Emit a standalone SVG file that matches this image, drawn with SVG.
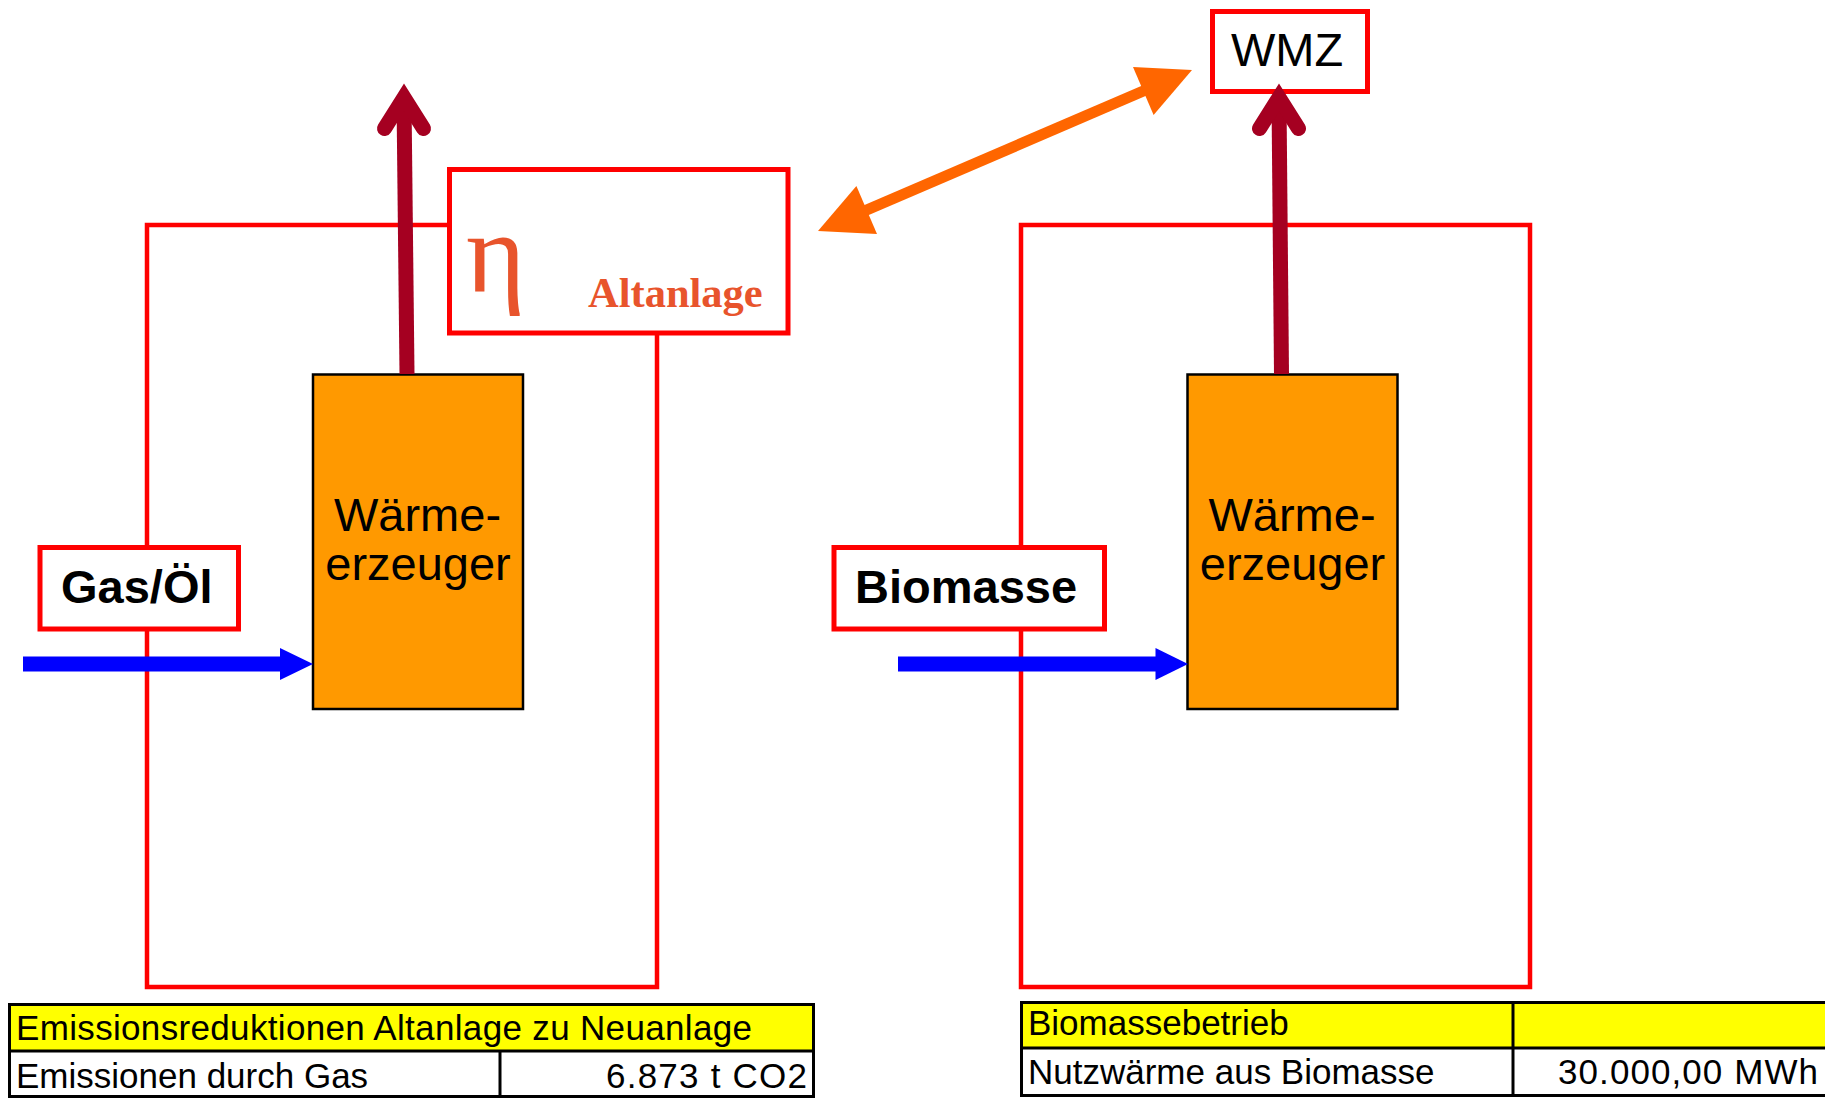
<svg xmlns="http://www.w3.org/2000/svg" width="1825" height="1100" viewBox="0 0 1825 1100">
<style>
.frame{fill:none;stroke:#FF0000;stroke-width:4.5}
.lbl{fill:#FFFFFF;stroke:#FF0000;stroke-width:5}
.gen{fill:#FF9900;stroke:#000000;stroke-width:2.5}
.genT{font-family:"Liberation Sans",Arial,sans-serif;font-size:47px;fill:#000;text-anchor:middle}
.bold{font-family:"Liberation Sans",Arial,sans-serif;font-size:47px;font-weight:bold;fill:#000}
.eta{font-family:"Liberation Serif","Times New Roman",serif;fill:#E8542C}
.heat{stroke:#A50021;stroke-width:15;fill:none}
.chev{stroke:#A50021;stroke-width:15;fill:none;stroke-linecap:round;stroke-linejoin:miter}
.blue{fill:#0000FF}
.orng{fill:#FF6600}
.cell{stroke:#000;stroke-width:3}
.tt{font-family:"Liberation Sans",Arial,sans-serif;font-size:35px;fill:#000}
</style>
<rect width="1825" height="1100" fill="#FFFFFF"/>

<g id="system-left">
  <rect class="frame" x="147" y="225" width="510" height="762"/>
</g>
<g id="system-right">
  <rect class="frame" x="1021" y="225" width="509" height="762"/>
</g>

<g id="eta-altanlage">
  <rect class="lbl" x="449.5" y="169.5" width="338.5" height="163.5"/>
  <text class="eta" x="466" y="292" font-size="114">η</text>
  <text class="eta" x="588" y="307" font-size="42.5" font-weight="bold">Altanlage</text>
</g>

<g id="wmz">
  <rect class="lbl" x="1212.5" y="11.5" width="155" height="80"/>
  <text x="1287" y="66" font-family="'Liberation Sans',Arial,sans-serif" font-size="47" text-anchor="middle" fill="#000">WMZ</text>
</g>

<g id="gas-oel">
  <rect class="lbl" x="40" y="547.5" width="198.5" height="81.5"/>
  <text class="bold" x="61" y="603">Gas/Öl</text>
</g>

<g id="biomasse">
  <rect class="lbl" x="834" y="547.5" width="270.5" height="81.5"/>
  <text class="bold" x="855" y="603">Biomasse</text>
</g>

<g id="waermeerzeuger-left">
  <rect class="gen" x="313" y="374.5" width="210" height="334.5"/>
  <text class="genT" x="417.5" y="531">Wärme-</text>
  <text class="genT" x="418" y="579.5">erzeuger</text>
</g>

<g id="waermeerzeuger-right">
  <rect class="gen" x="1187.5" y="374.5" width="210" height="334.5"/>
  <text class="genT" x="1292" y="531">Wärme-</text>
  <text class="genT" x="1292.5" y="579.5">erzeuger</text>
</g>

<g id="connectors">
  <!-- fuel inputs -->
  <rect class="blue" x="23" y="656.5" width="258" height="15"/>
  <polygon class="blue" points="280,648 313,664 280,680"/>
  <rect class="blue" x="898" y="656.5" width="258.5" height="15"/>
  <polygon class="blue" points="1155.5,648 1188,664 1155.5,680"/>
  <!-- heat outputs -->
  <line class="heat" x1="407" y1="374" x2="404" y2="100"/>
  <polyline class="chev" points="384.5,128.5 404,97.5 423.5,128.5"/>
  <line class="heat" x1="1281.5" y1="374" x2="1279" y2="100"/>
  <polyline class="chev" points="1259.5,128.5 1279,97.5 1298.5,128.5"/>
  <!-- comparison double arrow -->
  <line x1="862" y1="212" x2="1148" y2="89" stroke="#FF6600" stroke-width="11"/>
  <polygon class="orng" points="1192,70 1133,67 1153.6,115"/>
  <polygon class="orng" points="818,231 856.4,186.1 877,233.9"/>
</g>

<g id="table-left">
  <rect x="8" y="1003" width="807" height="48" fill="#FFFF00"/>
  <rect x="8" y="1051" width="807" height="47" fill="#FFFFFF"/>
  <rect class="cell" x="9.5" y="1004.5" width="804" height="92" fill="none"/>
  <line class="cell" x1="8" y1="1051" x2="815" y2="1051"/>
  <line class="cell" x1="500" y1="1051" x2="500" y2="1098"/>
  <text class="tt" x="16" y="1040" textLength="736" lengthAdjust="spacing">Emissionsreduktionen Altanlage zu Neuanlage</text>
  <text class="tt" x="16" y="1088">Emissionen durch Gas</text>
  <text class="tt" x="807" y="1088" text-anchor="end" textLength="201" lengthAdjust="spacing">6.873 t CO2</text>
</g>

<g id="table-right">
  <rect x="1020" y="1001" width="810" height="47" fill="#FFFF00"/>
  <rect x="1020" y="1048" width="810" height="49" fill="#FFFFFF"/>
  <rect class="cell" x="1021.5" y="1002.5" width="810" height="93" fill="none"/>
  <line class="cell" x1="1020" y1="1048" x2="1830" y2="1048"/>
  <line class="cell" x1="1513" y1="1001" x2="1513" y2="1097"/>
  <text class="tt" x="1028" y="1035">Biomassebetrieb</text>
  <text class="tt" x="1028" y="1084">Nutzwärme aus Biomasse</text>
  <text class="tt" x="1818" y="1083.5" text-anchor="end" textLength="260" lengthAdjust="spacing">30.000,00 MWh</text>
</g>
</svg>
